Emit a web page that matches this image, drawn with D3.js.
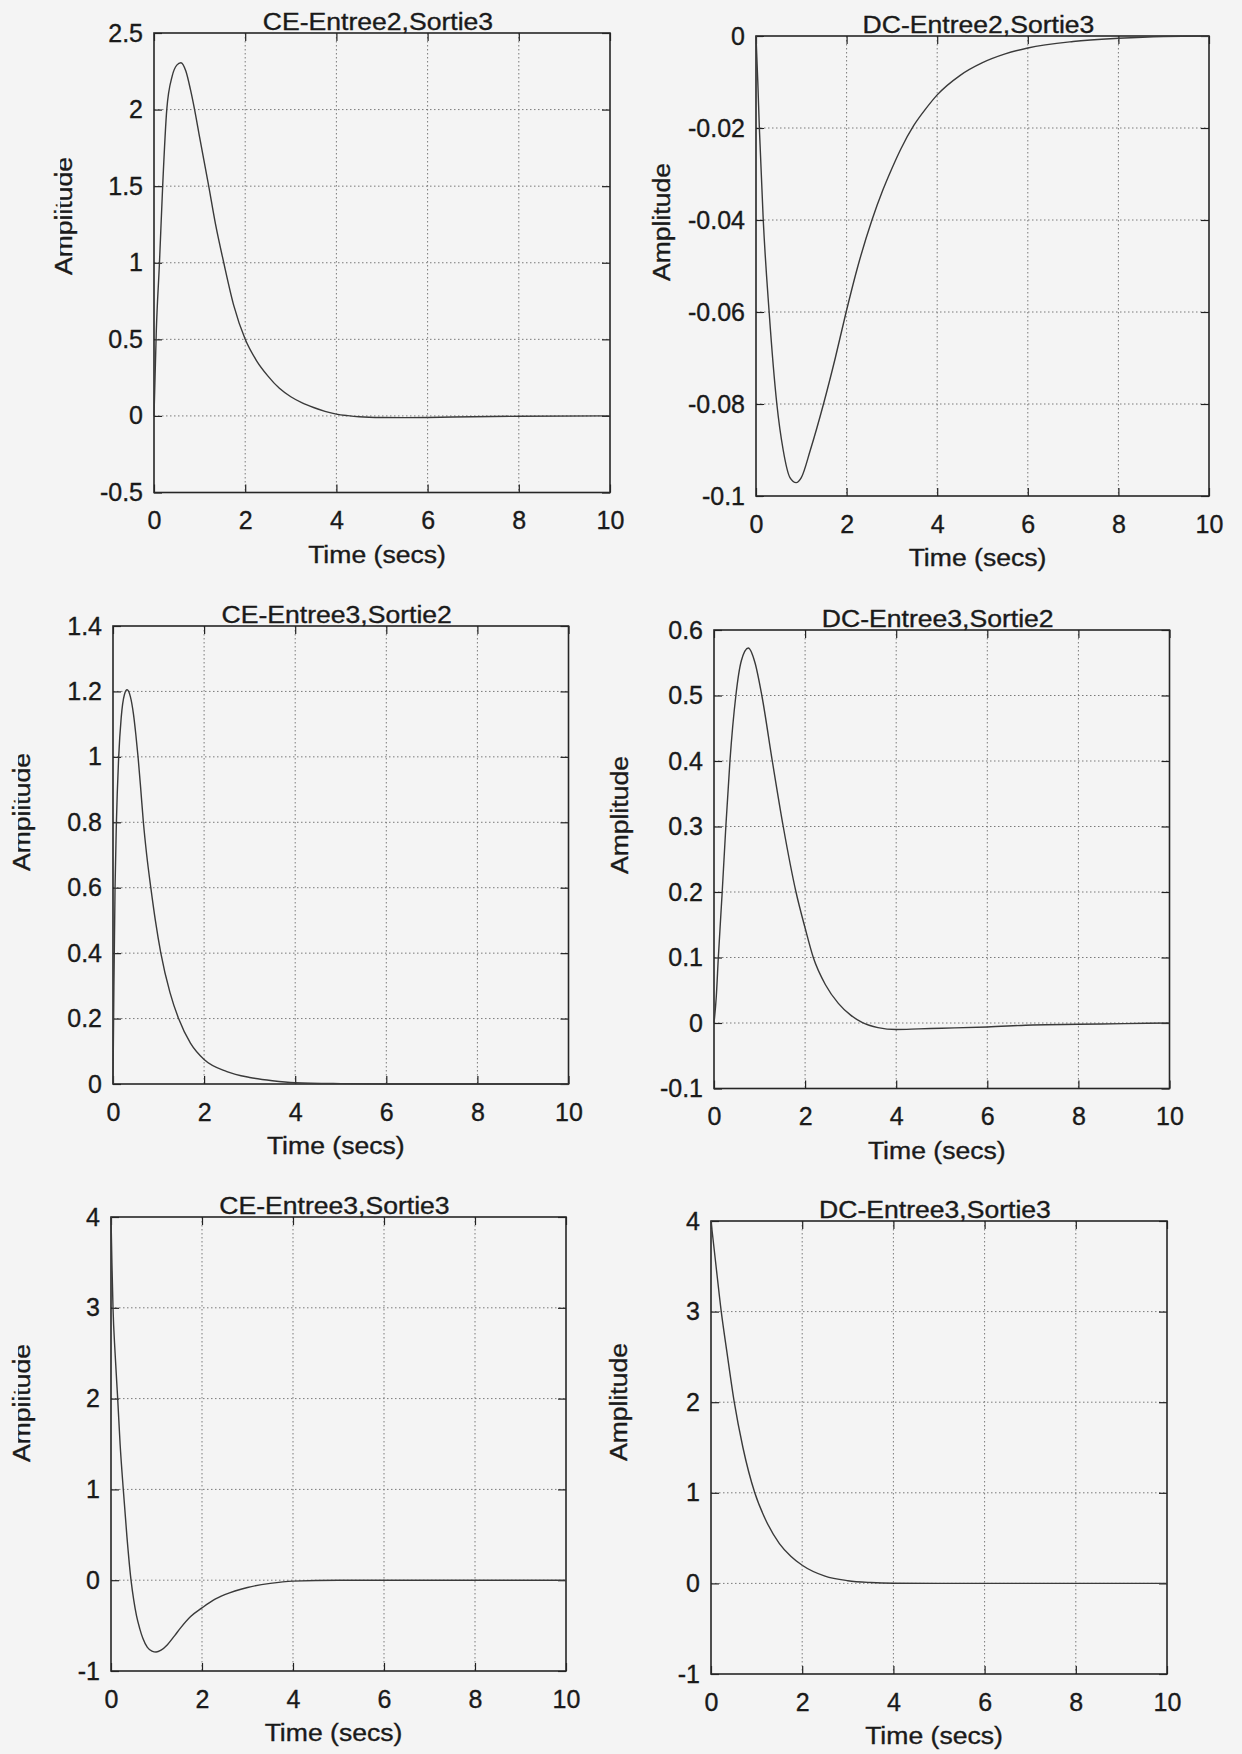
<!DOCTYPE html>
<html>
<head>
<meta charset="utf-8">
<script src="https://cdn.jsdelivr.net/npm/d3@7"></script>
<style>
    body { margin: 0; background: #f4f4f4; }
    svg { display: block; }
    text { font-family: "Liberation Sans", Arial, Helvetica, sans-serif; fill: #1a1a1a; stroke: #1a1a1a; stroke-width: 0.35px; }
</style>
</head>
<body>
<div id="plot"></div>
<script>
// step responses (time in secs, amplitude)
const timeCE23 = [0, 0.05, 0.12, 0.19, 0.28, 0.4, 0.5, 0.59, 0.7, 0.8, 0.89, 1.0, 1.2, 1.35, 1.53, 1.75, 2.0, 2.25, 2.5, 2.75, 3.0, 3.25, 3.5, 3.75, 4.0, 4.25, 4.5, 5.0, 5.5, 6.0, 7.0, 8.0, 10];
const ampCE23  = [0, 0.55, 1.0, 1.5, 2.0, 2.22, 2.29, 2.306, 2.25, 2.13, 2.0, 1.82, 1.5, 1.25, 1.0, 0.72, 0.5, 0.36, 0.26, 0.18, 0.125, 0.085, 0.055, 0.03, 0.012, 0.002, -0.005, -0.01, -0.011, -0.01, -0.005, -0.002, 0];

const timeDC23 = [0, 0.04, 0.074, 0.16, 0.29, 0.46, 0.6, 0.75, 0.886, 1.0, 1.2, 1.49, 1.75, 1.99, 2.25, 2.56, 2.8, 3.0, 3.2, 3.48, 3.75, 4.0, 4.5, 5.0, 5.5, 6.0, 7.0, 8.0, 9.0, 10];
const ampDC23  = [0, -0.01, -0.02, -0.04, -0.06, -0.08, -0.09, -0.096, -0.0971, -0.096, -0.09, -0.08, -0.07, -0.06, -0.05, -0.04, -0.0335, -0.0288, -0.0245, -0.0195, -0.0158, -0.0128, -0.0086, -0.0058, -0.0039, -0.0026, -0.0012, -0.0005, -0.0001, 0];

const timeCE32 = [0, 0.02, 0.045, 0.075, 0.125, 0.18, 0.25, 0.31, 0.38, 0.45, 0.5, 0.55, 0.61, 0.667, 0.74, 0.83, 0.93, 1.05, 1.25, 1.44, 1.7, 2.0, 2.5, 3.0, 3.5, 4.0, 5.0, 6.0, 10];
const ampCE32  = [0, 0.3, 0.6, 0.8, 1.0, 1.12, 1.19, 1.205, 1.185, 1.13, 1.07, 1.0, 0.9, 0.8, 0.7, 0.6, 0.5, 0.4, 0.28, 0.2, 0.125, 0.075, 0.038, 0.02, 0.01, 0.004, 0.001, 0, 0];

const timeDC32 = [0, 0.05, 0.095, 0.18, 0.26, 0.35, 0.48, 0.6, 0.755, 0.9, 1.05, 1.28, 1.52, 1.8, 2.0, 2.18, 2.45, 2.73, 3.0, 3.25, 3.6, 4.0, 4.5, 5.0, 6.0, 7.0, 8.0, 9.0, 10];
const ampDC32  = [0, 0.04, 0.1, 0.2, 0.3, 0.4, 0.5, 0.553, 0.5725, 0.55, 0.5, 0.4, 0.3, 0.2, 0.145, 0.1, 0.058, 0.03, 0.012, 0.001, -0.007, -0.01, -0.009, -0.008, -0.006, -0.003, -0.002, -0.001, 0];

const timeCE33 = [0, 0.02, 0.044, 0.09, 0.147, 0.2, 0.27, 0.35, 0.44, 0.5, 0.56, 0.63, 0.7, 0.8, 0.9, 0.99, 1.1, 1.24, 1.4, 1.53, 1.75, 2.0, 2.25, 2.5, 3.0, 3.5, 4.0, 5.0, 10];
const ampCE33  = [4, 3.5, 3.0, 2.5, 2.0, 1.5, 1.0, 0.48, 0.0, -0.22, -0.39, -0.53, -0.64, -0.74, -0.78, -0.79, -0.77, -0.71, -0.61, -0.525, -0.4, -0.305, -0.22, -0.16, -0.08, -0.035, -0.01, 0, 0];

const timeDC33 = [0, 0.1, 0.225, 0.35, 0.51, 0.7, 0.96, 1.2, 1.5, 1.75, 2.0, 2.5, 3.0, 3.5, 4.0, 5.0, 10];
const ampDC33  = [4, 3.55, 3.0, 2.55, 2.0, 1.5, 1.0, 0.7, 0.44, 0.3, 0.2, 0.08, 0.03, 0.01, 0.002, 0, 0];

const titles = ["CE-Entree2,Sortie3", "DC-Entree2,Sortie3", "CE-Entree3,Sortie2", "DC-Entree3,Sortie2", "CE-Entree3,Sortie3", "DC-Entree3,Sortie3"];
const xTicks = [0, 2, 4, 6, 8, 10];
const yTicksCE23 = [-0.5, 0, 0.5, 1, 1.5, 2, 2.5];
const yTicksDC23 = [-0.1, -0.08, -0.06, -0.04, -0.02, 0];
const yTicksCE32 = [0, 0.2, 0.4, 0.6, 0.8, 1, 1.2, 1.4];
const yTicksDC32 = [-0.1, 0, 0.1, 0.2, 0.3, 0.4, 0.5, 0.6];
const yTicksCE33 = [-1, 0, 1, 2, 3, 4];
const yTicksDC33 = [-1, 0, 1, 2, 3, 4];

// where each axes box sits on the page
const boxes = [
    {left: 154, top: 33,   right: 610,    bottom: 492.5, ylabX: 72,  ylabY: 216,  stripe: true},
    {left: 756, top: 36,   right: 1209,   bottom: 496,   ylabX: 670, ylabY: 222,  stripe: false},
    {left: 113, top: 626,  right: 568.5,  bottom: 1084,  ylabX: 30,  ylabY: 812,  stripe: true},
    {left: 714, top: 630,  right: 1169.5, bottom: 1088.5,ylabX: 628, ylabY: 815,  stripe: false},
    {left: 111, top: 1217, right: 566,    bottom: 1671,  ylabX: 30,  ylabY: 1403, stripe: true},
    {left: 711, top: 1221, right: 1167,   bottom: 1674,  ylabX: 627, ylabY: 1402, stripe: false}
];

const series = [
    {t: timeCE23, v: ampCE23, ticks: yTicksCE23},
    {t: timeDC23, v: ampDC23, ticks: yTicksDC23},
    {t: timeCE32, v: ampCE32, ticks: yTicksCE32},
    {t: timeDC32, v: ampDC32, ticks: yTicksDC32},
    {t: timeCE33, v: ampCE33, ticks: yTicksCE33},
    {t: timeDC33, v: ampDC33, ticks: yTicksDC33}
];

const bg = "#f4f4f4";
const svg = d3.select("#plot").append("svg")
    .attr("width", 1242)
    .attr("height", 1754);
svg.append("rect").attr("width", 1242).attr("height", 1754).attr("fill", bg);

// the scanned font runs a bit wide, so stretch along the reading direction
function stretch(sel, factor) {
    sel.each(function() {
        const len = this.getComputedTextLength();
        d3.select(this).attr("textLength", len * factor).attr("lengthAdjust", "spacingAndGlyphs");
    });
}

series.forEach((s, i) => {
    const b = boxes[i];
    const w = b.right - b.left;
    const h = b.bottom - b.top;

    const g = svg.append("g").attr("transform", `translate(${b.left},${b.top})`);

    const x = d3.scaleLinear().domain([0, 10]).range([0, w]);
    const y = d3.scaleLinear().domain(d3.extent(s.ticks)).range([h, 0]);

    // dotted grid on interior ticks
    g.append("g").selectAll("line")
        .data(xTicks.slice(1, -1))
        .join("line")
        .attr("x1", d => x(d)).attr("x2", d => x(d))
        .attr("y1", 0).attr("y2", h)
        .attr("stroke", "#7a7a7a").attr("stroke-width", 1)
        .attr("stroke-dasharray", "1.5,2.5");
    g.append("g").selectAll("line")
        .data(s.ticks.slice(1, -1))
        .join("line")
        .attr("x1", 0).attr("x2", w)
        .attr("y1", d => y(d)).attr("y2", d => y(d))
        .attr("stroke", "#7a7a7a").attr("stroke-width", 1)
        .attr("stroke-dasharray", "1.5,2.5");

    // axes, ticks pointing inward on all four sides
    const fmt = d => String(d);
    const yAxis = g.append("g")
        .call(d3.axisLeft(y).tickValues(s.ticks).tickFormat(fmt).tickSizeInner(-8).tickSizeOuter(0).tickPadding(11));
    const xAxis = g.append("g").attr("transform", `translate(0,${h})`)
        .call(d3.axisBottom(x).tickValues(xTicks).tickFormat(fmt).tickSizeInner(-8).tickSizeOuter(0).tickPadding(19));
    g.append("g").attr("transform", `translate(${w},0)`)
        .call(d3.axisRight(y).tickValues(s.ticks).tickFormat("").tickSizeInner(-8).tickSizeOuter(0));
    g.append("g")
        .call(d3.axisTop(x).tickValues(xTicks).tickFormat("").tickSizeInner(-8).tickSizeOuter(0));

    g.selectAll(".domain").remove();
    g.selectAll(".tick line").attr("stroke", "#222").attr("stroke-width", 1.2);
    yAxis.selectAll("text").attr("font-size", 25).attr("fill", "#1a1a1a");
    xAxis.selectAll("text").attr("font-size", 25).attr("fill", "#1a1a1a").attr("dy", "0.71em");

    g.append("rect")
        .attr("width", w).attr("height", h)
        .attr("fill", "none").attr("stroke", "#262626").attr("stroke-width", 1.6);

    // response curve
    const pts = s.t.map((t, k) => [t, s.v[k]]);
    const line = d3.line()
        .x(d => x(d[0]))
        .y(d => y(d[1]))
        .curve(d3.curveMonotoneX);
    g.append("path")
        .datum(pts)
        .attr("d", line)
        .attr("fill", "none")
        .attr("stroke", "#3a3a3a")
        .attr("stroke-width", 1.4);

    // labels
    const title = svg.append("text")
        .attr("x", b.left + w / 2 - 4)
        .attr("y", b.top - 3)
        .attr("text-anchor", "middle")
        .attr("font-size", 23.5)
        .text(titles[i]);
    stretch(title, 1.13);

    const xl = svg.append("text")
        .attr("x", b.left + w / 2 - 5)
        .attr("y", b.bottom + 70)
        .attr("text-anchor", "middle")
        .attr("font-size", 23.5)
        .text("Time (secs)");
    stretch(xl, 1.13);

    const yl = svg.append("text")
        .attr("transform", `translate(${b.ylabX},${b.ylabY}) rotate(-90)`)
        .attr("text-anchor", "middle")
        .attr("font-size", 23.5)
        .text("Amplitude");
    stretch(yl, 1.13);

    // the scan drops a thin band out of the left column's y labels (the "A" survives)
    if (b.stripe) {
        svg.append("rect")
            .attr("x", b.ylabX - 14.5)
            .attr("y", b.ylabY - 70)
            .attr("width", 2.6)
            .attr("height", 112)
            .attr("fill", bg);
    }
});
</script>
</body>
</html>
